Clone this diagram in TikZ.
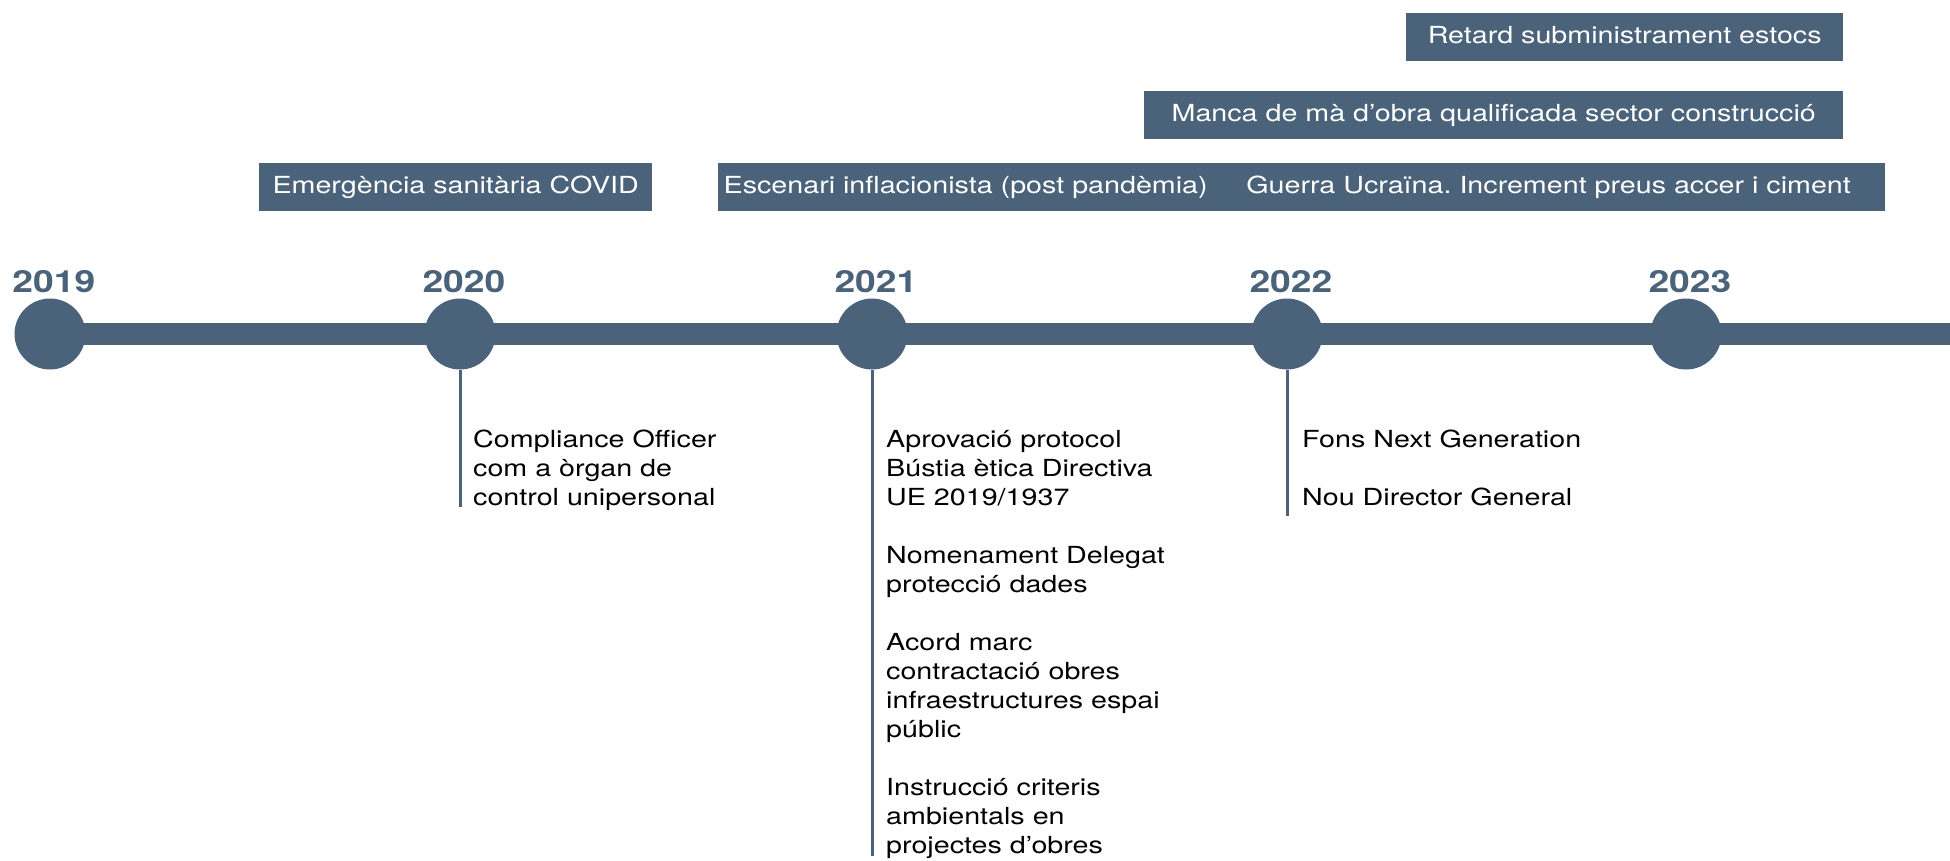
\documentclass[tikz,border=0pt]{standalone}
\usepackage{fontspec}
\setmainfont[FakeStretch=1.22]{TeX Gyre Heros}
\usetikzlibrary{positioning}
\frenchspacing
\definecolor{slate}{RGB}{74,99,122}
\tikzset{
  year/.style={circle, fill=slate, minimum size=71pt, inner sep=0pt},
  yearlabel/.style={anchor=base west, inner sep=0pt, text=slate, font=\fontsize{30.5}{36}\selectfont\bfseries},
  stem/.style={draw=slate, line width=3pt},
  note/.style={anchor=base west, inner sep=0pt, align=left, font=\fontsize{23.5}{29}\selectfont},
  event/.style={fill=slate, text=white, anchor=north west, minimum height=48pt, inner sep=0pt,
    text height=17pt, text depth=5pt, font=\fontsize{23.5}{29}\selectfont},
}
\begin{document}
\begin{tikzpicture}[x=1pt, y=-1pt]
\useasboundingbox (0,0) rectangle (1950,860);
\path (1950,334) coordinate (barend);
\foreach \yr/\cx in {2019/50, 2020/460, 2021/872, 2022/1287, 2023/1686}
  \node[year] (c\yr) at (\cx,334) {};
\draw[slate, line width=22pt] (c2019.center) -- (barend);
\foreach \yr in {2019,...,2023}
  \node[yearlabel] (l\yr) at ([yshift=42pt, xshift=-2pt]c\yr.west) {\yr};
\draw[stem] (c2020.south) -- ++(0,137) coordinate (e2020);
\draw[stem] (c2021.south) -- ++(0,486) coordinate (e2021);
\draw[stem] (c2022.south) -- ++(0,146) coordinate (e2022);
\node[note] (n2020) at (473,505) {Compliance Officer\\com a òrgan de\\control unipersonal};
\node[note] (n2021) at (886,853) {Aprovació protocol\\Bústia ètica Directiva\\UE 2019/1937\\[29pt]
  Nomenament Delegat\\protecció dades\\[29pt]
  Acord marc\\contractació obres\\infraestructures espai\\públic\\[29pt]
  Instrucció criteris\\ambientals en\\projectes d’obres};
\node[note] (n2022) at (1302,505) {Fons Next Generation\\[29pt]Nou Director General};
\node[event, minimum width=393pt] (covid) at (259,163) {Emergència sanitària COVID};
\node[event, minimum width=495pt] (inflacio) at (718,163) {Escenari inflacionista (post pandèmia)};
\node[event, minimum width=672pt, right=-1pt of inflacio] (guerra) {Guerra Ucraïna. Increment preus accer i ciment};
\node[event, minimum width=699pt] (obra) at (1144,91) {Manca de mà d’obra qualificada sector construcció};
\node[event, minimum width=437pt] (estocs) at (1406,13) {Retard subministrament estocs};
\end{tikzpicture}
\end{document}
